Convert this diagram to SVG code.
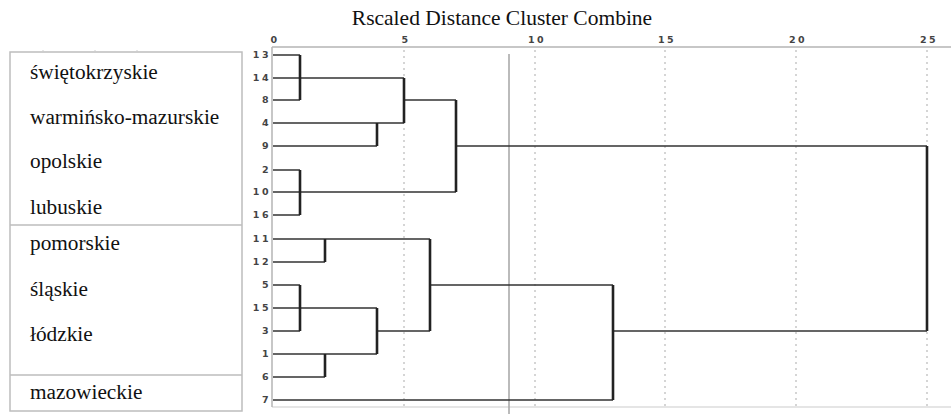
<svg xmlns="http://www.w3.org/2000/svg" width="951" height="414" viewBox="0 0 951 414">
<style>
.lbl{font-family:"Liberation Serif","Times New Roman",serif;font-size:21.3px;fill:#111}
.title{font-family:"Liberation Serif","Times New Roman",serif;font-size:21.5px;fill:#111}
.tk{font-family:"DejaVu Sans","Liberation Sans",sans-serif;font-size:9.5px;font-weight:bold;fill:#444;letter-spacing:2.5px}
.box{fill:none;stroke:#bdbdbd;stroke-width:1.5}
.ax{stroke:#b4b4b4;stroke-width:1.5;fill:none}
.dot{stroke:#c8c8c8;stroke-width:1.5;stroke-dasharray:2 4;fill:none}
.h{stroke:#333;stroke-width:1.7;fill:none}
.v{stroke:#222;stroke-width:2.6;fill:none}
</style>
<rect width="951" height="414" fill="#fff"/>
<text class="title" x="502" y="25" text-anchor="middle">Rscaled Distance Cluster Combine</text>
<g id="labels-box">
<rect class="box" x="10" y="52" width="232" height="359"/>
<line class="box" x1="10" y1="225" x2="242" y2="225"/>
<line class="box" x1="10" y1="375" x2="242" y2="375"/>
<g stroke="#ccc" stroke-width="1"><line x1="43" y1="50" x2="43" y2="52"/><line x1="95" y1="50" x2="95" y2="52"/><line x1="137" y1="50" x2="137" y2="52"/></g>
<text class="lbl" x="30" y="79">świętokrzyskie</text>
<text class="lbl" x="30" y="124">warmińsko-mazurskie</text>
<text class="lbl" x="30" y="168">opolskie</text>
<text class="lbl" x="30" y="214">lubuskie</text>
<text class="lbl" x="30" y="250">pomorskie</text>
<text class="lbl" x="30" y="296">śląskie</text>
<text class="lbl" x="30" y="341">łódzkie</text>
<text class="lbl" x="30" y="399">mazowieckie</text>
</g>
<g id="axis">
<line class="dot" x1="404" y1="50" x2="404" y2="406"/>
<line class="dot" x1="535" y1="50" x2="535" y2="406"/>
<line class="dot" x1="665" y1="50" x2="665" y2="406"/>
<line class="dot" x1="796" y1="50" x2="796" y2="406"/>
<line class="dot" x1="927" y1="50" x2="927" y2="406"/>
<line x1="272" y1="407" x2="951" y2="407" stroke="#ddd" stroke-width="1.5"/>
<line class="ax" x1="272" y1="47" x2="951" y2="47"/>
<line class="ax" x1="272" y1="47" x2="272" y2="407"/>
<line x1="509" y1="54" x2="509" y2="414" stroke="#aaa" stroke-width="1.6"/>
<g class="tk" text-anchor="middle">
<text x="275" y="43">0</text><text x="406" y="43">5</text><text x="537" y="43">10</text><text x="667" y="43">15</text><text x="798" y="43">20</text><text x="929" y="43">25</text>
</g>
<g class="tk" text-anchor="end">
<text x="271" y="58">13</text><text x="271" y="81">14</text><text x="271" y="103">8</text><text x="271" y="126">4</text>
<text x="271" y="149">9</text><text x="271" y="173">2</text><text x="271" y="195">10</text><text x="271" y="218">16</text>
<text x="271" y="242">11</text><text x="271" y="265">12</text><text x="271" y="288">5</text><text x="271" y="311">15</text>
<text x="271" y="334">3</text><text x="271" y="357">1</text><text x="271" y="380">6</text><text x="271" y="403">7</text>
</g>
</g>
<g id="connectors">
<path class="h" d="M273 55H300M273 78H404M273 100H300M273 123H404M273 146H377M404 100H456M273 170H300M273 192H456M273 215H300M456 146H927"/>
<path class="v" d="M300 55V100M377 123V146M404 78V123M300 170V215M456 100V192M927 146V331"/>
<path class="h" d="M273 239H430M273 262H325M273 285H300M273 308H377M273 331H300M273 354H377M273 377H325M377 331H430M430 285H613M273 400H613M613 331H927"/>
<path class="v" d="M325 239V262M300 285V331M325 354V377M377 308V354M430 239V331M613 285V400"/>
</g>
</svg>
